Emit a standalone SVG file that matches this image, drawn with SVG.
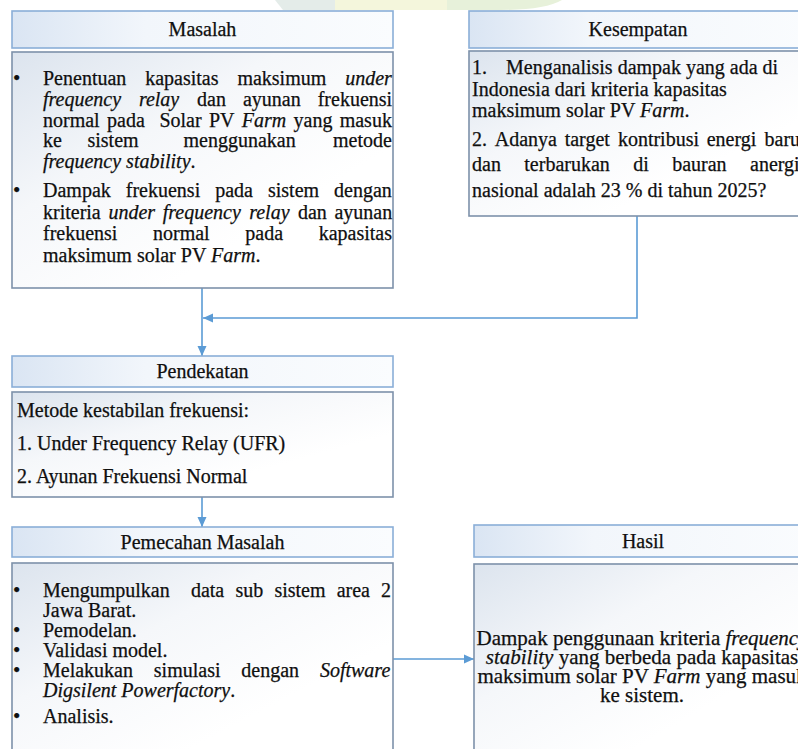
<svg xmlns="http://www.w3.org/2000/svg" width="798" height="749" viewBox="0 0 798 749">
<defs>
<linearGradient id="gh" x1="0" y1="0" x2="1" y2="0">
<stop offset="0" stop-color="#dae5f3"/><stop offset="0.35" stop-color="#f2f6fb"/><stop offset="1" stop-color="#fafcfe"/>
</linearGradient>
<linearGradient id="gb" x1="0" y1="0" x2="0.7" y2="0.7">
<stop offset="0" stop-color="#dce4ee"/><stop offset="0.5" stop-color="#f5f7fa"/><stop offset="1" stop-color="#ffffff"/>
</linearGradient>
<marker id="ah" markerUnits="userSpaceOnUse" markerWidth="10" markerHeight="10" refX="10" refY="5" orient="auto">
<path d="M0,0.5 L10,5 L0,9.5 Z" fill="#5b9bd5"/>
</marker>
<style>
.hd{fill:url(#gh);stroke:#8aaed8;stroke-width:1.6}
.bd{fill:url(#gb);stroke:#7d91aa;stroke-width:1.6}
text{font-family:"Liberation Serif","Times New Roman",serif;font-size:20px;fill:#0f0f0f;stroke:#0f0f0f;stroke-width:0.25}
.c{text-anchor:middle}
.i{font-style:italic}
.h21{font-size:21px}
.b{font-size:21px}
.cn{fill:none;stroke:#5b9bd5;stroke-width:1.6;marker-end:url(#ah)}
</style>
</defs>
<rect width="798" height="749" fill="#ffffff"/>
<g id="watermark">
<path d="M275,0 H335 V10 H283 Z" fill="#e4ece9"/>
<path d="M335,0 H447 V10 H335 Z" fill="#f4f6dc"/>
<path d="M447,0 H562 Q545,10 500,10 H447 Z" fill="#e7f1da"/>
</g>
<g id="connectors">
<path class="cn" d="M202,288 V356"/>
<path class="cn" d="M637,216 V318 H203"/>
<path class="cn" d="M202,497 V527"/>
<path class="cn" d="M393,659 H474"/>
</g>
<g id="masalah">
<rect class="hd" x="12" y="11" width="381" height="37"/>
<text class="c" x="202.5" y="36">Masalah</text>
<rect class="bd" x="12" y="52" width="381" height="236"/>
<text class="b" x="13" y="85">•</text>
<text y="85"><tspan x="43">Penentuan</tspan><tspan x="145.2">kapasitas</tspan><tspan x="237.4">maksimum</tspan><tspan x="345.2" class="i">under</tspan></text>
<text y="106"><tspan x="43" class="i">frequency</tspan><tspan x="138.9" class="i">relay</tspan><tspan x="197">dan</tspan><tspan x="242.9">ayunan</tspan><tspan x="317.7">frekuensi</tspan></text>
<text y="126.5"><tspan x="43">normal</tspan><tspan x="107">pada</tspan><tspan x="159.4">Solar</tspan><tspan x="208.9">PV</tspan><tspan x="241.8" class="i">Farm</tspan><tspan x="293.5">yang</tspan><tspan x="339.7">masuk</tspan></text>
<text y="147"><tspan x="43">ke</tspan><tspan x="87.5">sistem</tspan><tspan x="183.5">menggunakan</tspan><tspan x="333">metode</tspan></text>
<text y="167.5" x="43" class="i">frequency stability<tspan style="font-style:normal">.</tspan></text>
<text class="b" x="13" y="197">•</text>
<text y="197"><tspan x="43">Dampak</tspan><tspan x="125.8">frekuensi</tspan><tspan x="215.2">pada</tspan><tspan x="268">sistem</tspan><tspan x="334.1">dengan</tspan></text>
<text y="218.5"><tspan x="43">kriteria</tspan><tspan x="108.4" class="i">under</tspan><tspan x="162.7" class="i">frequency</tspan><tspan x="249.2" class="i">relay</tspan><tspan x="297.9">dan</tspan><tspan x="334.4">ayunan</tspan></text>
<text y="240"><tspan x="43">frekuensi</tspan><tspan x="153">normal</tspan><tspan x="245.3">pada</tspan><tspan x="318.7">kapasitas</tspan></text>
<text y="261.5" x="43">maksimum solar PV <tspan class="i">Farm</tspan>.</text>
</g>
<g id="kesempatan">
<rect class="hd" x="469" y="11" width="340" height="37"/>
<text class="c" x="638" y="36">Kesempatan</text>
<rect class="bd" x="469" y="51" width="340" height="165"/>
<text y="74"><tspan x="472">1.</tspan><tspan x="506">Menganalisis dampak yang ada di</tspan></text>
<text x="472" y="96">Indonesia dari kriteria kapasitas</text>
<text x="472" y="117">maksimum solar PV <tspan class="i">Farm</tspan>.</text>
<text y="146"><tspan x="472">2.</tspan><tspan x="494.7">Adanya</tspan><tspan x="564.7">target</tspan><tspan x="617.9">kontribusi</tspan><tspan x="706.7">energi</tspan><tspan x="764.5">baru</tspan></text>
<text y="171"><tspan x="472">dan</tspan><tspan x="524.3">terbarukan</tspan><tspan x="633.2">di</tspan><tspan x="672.2">bauran</tspan><tspan x="750">anergi</tspan></text>
<text x="472" y="197">nasional adalah 23 % di tahun 2025?</text>
</g>
<g id="pendekatan">
<rect class="hd" x="12" y="356" width="381" height="31"/>
<text class="c" x="202.5" y="378">Pendekatan</text>
<rect class="bd" x="12" y="392" width="381" height="105"/>
<text x="17" y="417">Metode kestabilan frekuensi:</text>
<text x="17" y="450">1. Under Frequency Relay (UFR)</text>
<text x="17" y="483">2. Ayunan Frekuensi Normal</text>
</g>
<g id="pemecahan">
<rect class="hd" x="12" y="527" width="381" height="30"/>
<text class="c" x="202.5" y="548.5">Pemecahan Masalah</text>
<rect class="bd" x="12" y="563" width="381" height="200"/>
<text class="b" x="13" y="597">•</text>
<text y="597"><tspan x="43">Mengumpulkan</tspan><tspan x="190.9">data</tspan><tspan x="235.4">sub</tspan><tspan x="274.4">sistem</tspan><tspan x="336.7">area</tspan><tspan x="381">2</tspan></text>
<text x="43" y="617">Jawa Barat.</text>
<text class="b" x="13" y="637">•</text>
<text x="43" y="637">Pemodelan.</text>
<text class="b" x="13" y="657">•</text>
<text x="43" y="657">Validasi model.</text>
<text class="b" x="13" y="677">•</text>
<text y="677"><tspan x="43">Melakukan</tspan><tspan x="153.8">simulasi</tspan><tspan x="241.3">dengan</tspan><tspan x="319.9" class="i">Software</tspan></text>
<text x="43" y="697" class="i">Digsilent Powerfactory<tspan style="font-style:normal">.</tspan></text>
<text class="b" x="13" y="723">•</text>
<text x="43" y="723">Analisis.</text>
</g>
<g id="hasil">
<rect class="hd" x="474" y="525" width="340" height="32"/>
<text class="c" x="643" y="547.5">Hasil</text>
<rect class="bd" x="474" y="564" width="340" height="200"/>
<text class="c h21" x="642" y="645">Dampak penggunaan kriteria <tspan class="i">frequency</tspan></text>
<text class="c h21" x="642" y="664"><tspan class="i">stability</tspan> yang berbeda pada kapasitas</text>
<text class="c h21" x="642" y="683">maksimum solar PV <tspan class="i">Farm</tspan> yang masuk</text>
<text class="c h21" x="642" y="701.5">ke sistem.</text>
</g>
</svg>
